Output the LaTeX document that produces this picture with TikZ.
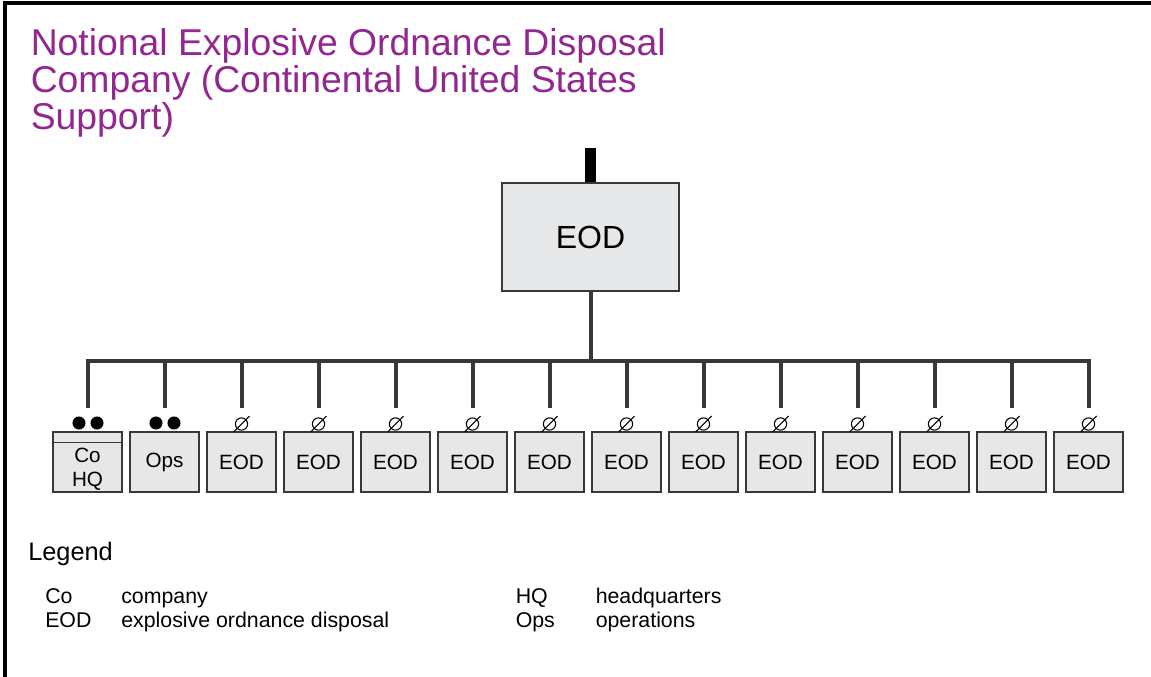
\documentclass[tikz,border=0pt]{standalone}
\usepackage{fontspec}
\setmainfont{Liberation Sans}
\definecolor{titlepurple}{HTML}{92278F}
\definecolor{boxfill}{HTML}{E6E7E8}
\definecolor{linegray}{HTML}{383838}
\begin{document}
\begin{tikzpicture}[x=0.75pt,y=-0.75pt,
  unitbox/.style={draw=linegray, line width=0.9pt, fill=boxfill,
    minimum width=51.75pt, minimum height=45pt, inner sep=0pt,
    font=\fontsize{15.5}{18}\selectfont},
  bigbox/.style={unitbox, minimum width=132.75pt, minimum height=81pt,
    font=\fontsize{24}{28}\selectfont},
  link/.style={draw=linegray, line width=3pt, line join=miter},
  cmdbar/.style={draw=black, line width=8.25pt},
  headline/.style={font=\fontsize{28}{28}\selectfont, text=titlepurple,
    align=left, inner sep=0pt, anchor=north west},
  legendhead/.style={font=\fontsize{19}{22}\selectfont, inner sep=0pt, anchor=base west},
  legendtxt/.style={font=\fontsize{16}{18}\selectfont, inner sep=0pt, anchor=base west},
  teamsym/.style={draw=black, line width=0.8pt}]
\useasboundingbox (0,0) rectangle (1151,676);

% outer frame (top and left edges)
\draw[line width=3pt, line join=miter] (5,678) -- (5,2.5) -- (1153,2.5);

% title
\node[headline] (title) at (30.5,27.7)
  {Notional Explosive Ordnance Disposal\\Company (Continental United States\\Support)};

% company box with command bar
\node[bigbox, text depth=0pt, text height=17pt] (co) at (590.5,237) {EOD};
\coordinate (bartop) at (590,148);
\draw[cmdbar] (bartop) -- (bartop |- co.north);

% subordinate units
\node[unitbox] (u1) at (87.5,462) {};
\node[font=\fontsize{15.5}{18}\selectfont, align=center, inner sep=0pt] (u1t) at (87.5,469) {Co\\HQ};
\draw[draw=linegray, line width=0.9pt] (u1.north west) ++(0,11) -- ++(69,0);
\node[unitbox] (u2) at (164.5,462) {Ops};
\foreach \i in {3,...,14} {
  \node[unitbox] (u\i) at ({87.5+(\i-1)*77},462) {EOD};
}

% connectors
\coordinate (bus) at (0,361);
\coordinate (dropend) at (0,408);
\draw[link] (co.south) -- (co.south |- bus);
\draw[link] (u1 |- dropend) -- (u1 |- bus) -- (u14 |- bus) -- (u14 |- dropend);
\foreach \i in {2,...,13} {
  \draw[link] (u\i |- bus) -- (u\i |- dropend);
}

% echelon symbols: section (two dots) and team (slashed circle)
\foreach \x in {79,97,156,174} {
  \fill[black] (\x,423) circle (4.9pt);
}
\foreach \i in {3,...,14} {
  \path (u\i |- 0,424) coordinate (s\i);
  \draw[teamsym] (s\i) circle (4.6pt);
  \draw[teamsym] ([xshift=-6pt,yshift=-6pt]s\i) -- ([xshift=6pt,yshift=6pt]s\i);
}

% legend
\node[legendhead] (leg) at (28,560) {Legend};
\node[legendtxt] (k1) at (45,603) {Co};
\node[legendtxt] (v1) at (121,603) {company};
\node[legendtxt] (k2) at (45,627) {EOD};
\node[legendtxt] (v2) at (121,627) {explosive ordnance disposal};
\node[legendtxt] (k3) at (515.5,603) {HQ};
\node[legendtxt] (v3) at (595.5,603) {headquarters};
\node[legendtxt] (k4) at (515.5,627) {Ops};
\node[legendtxt] (v4) at (595.5,627) {operations};
\end{tikzpicture}
\end{document}
